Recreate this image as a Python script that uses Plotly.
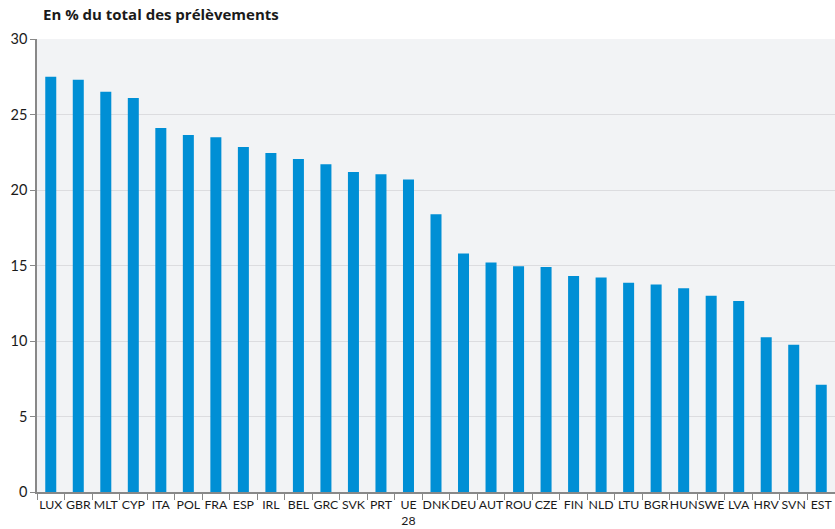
import plotly.graph_objects as go

categories = ["LUX", "GBR", "MLT", "CYP", "ITA", "POL", "FRA", "ESP", "IRL", "BEL",
              "GRC", "SVK", "PRT", "UE<br>28", "DNK", "DEU", "AUT", "ROU", "CZE", "FIN",
              "NLD", "LTU", "BGR", "HUN", "SWE", "LVA", "HRV", "SVN", "EST"]
values = [27.5, 27.3, 26.5, 26.1, 24.1, 23.65, 23.5, 22.85, 22.45, 22.05,
          21.7, 21.2, 21.05, 20.7, 18.4, 15.8, 15.2, 14.95, 14.9, 14.3,
          14.2, 13.85, 13.75, 13.5, 13.0, 12.65, 10.25, 9.75, 7.1]
y_ticks = [0, 5, 10, 15, 20, 25, 30]

FONT = "Lato"

fig = go.Figure(go.Bar(x=categories, y=values, marker=dict(color="#008fd5", line=dict(width=0)),
                       width=0.4))

fig.update_layout(
    width=835, height=529,
    margin=dict(l=37, r=0, t=39, b=37),
    paper_bgcolor="white",
    plot_bgcolor="#f2f3f5",
    font=dict(family=FONT, size=13, color="#1a1a1a"),
    showlegend=False,
    title=dict(text="<b>En % du total des prélèvements</b>", x=43 / 835, xanchor="left",
               y=1 - 15 / 529, yanchor="middle",
               font=dict(family="Open Sans", size=15, color="#1a1a1a")),
)
fig.update_xaxes(
    type="category", showline=True, linecolor="#888888", linewidth=1.5,
    ticks="outside", tickson="boundaries", ticklen=6, tickcolor="#888888", tickwidth=1,
    showgrid=False, tickfont=dict(family=FONT, size=12.3, color="#1a1a1a"),
    tickangle=0, automargin=False,
    range=[-0.5, len(categories) - 0.5],
)
fig.update_yaxes(
    range=[0, 30], tickvals=y_ticks, showline=True, linecolor="#888888", linewidth=1.5,
    ticks="outside", ticklen=5, tickcolor="#888888", automargin=False,
    showgrid=True, gridcolor="#dcdcdf", gridwidth=1, zeroline=False,
    tickfont=dict(family=FONT, size=14.5, color="#1a1a1a"),
)

fig.write_html("out.html", config={"displayModeBar": False},
               post_script="document.body.style.margin='0';")
